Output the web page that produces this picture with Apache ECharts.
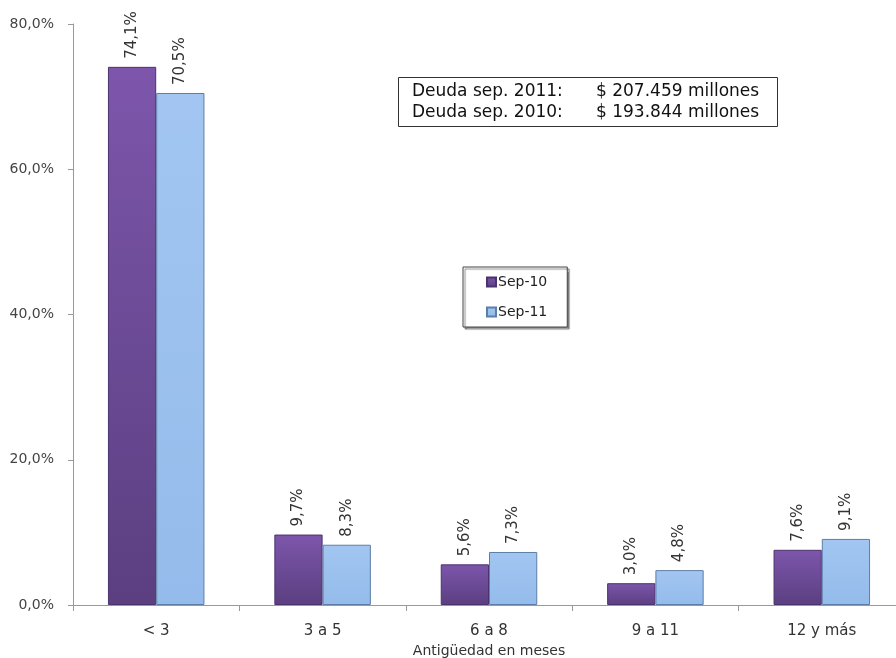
<!DOCTYPE html>
<html>
<head>
<meta charset="utf-8">
<script src="https://cdn.jsdelivr.net/npm/echarts@6/dist/echarts.min.js"></script>
<style>
html,body{margin:0;padding:0;background:#fff;}
#chart{width:896px;height:658px;}
</style>
</head>
<body>
<div id="chart"></div>
<script>
// Antigüedad de la deuda por tramo de meses
const categories = ['< 3', '3 a 5', '6 a 8', '9 a 11', '12 y más'];
const sep10 = [74.1, 9.7, 5.6, 3.0, 7.6];
const sep11 = [70.5, 8.3, 7.3, 4.8, 9.1];
const seriesNames = ['Sep-10', 'Sep-11'];
const yTicks = [0, 20, 40, 60, 80];
const noteLines = [
  ['Deuda sep. 2011:', '$ 207.459 millones'],
  ['Deuda sep. 2010:', '$ 193.844 millones']
];

const FONT = 'DejaVu Sans';
const fmt = v => v.toFixed(1).replace('.', ',') + '%';

const chart = echarts.init(document.getElementById('chart'));

const purple = new echarts.graphic.LinearGradient(0, 0, 0, 1, [
  { offset: 0, color: '#7d56ab' },
  { offset: 1, color: '#5b3f81' }
]);
const blue = new echarts.graphic.LinearGradient(0, 0, 0, 1, [
  { offset: 0, color: '#a2c6f1' },
  { offset: 1, color: '#94bbeb' }
]);

const labelCfg = {
  show: true,
  position: 'top',
  rotate: 90,
  align: 'left',
  verticalAlign: 'middle',
  distance: 8,
  fontFamily: FONT,
  fontSize: 15,
  color: '#333',
  formatter: p => fmt(p.value)
};

chart.setOption({
  animation: false,
  textStyle: { fontFamily: FONT },
  grid: { left: 73, top: 24, width: 832, bottom: 53, containLabel: false, outerBoundsMode: 'none' },
  legend: {
    left: 463, top: 267, orient: 'vertical',
    itemWidth: 9, itemHeight: 9, itemGap: 16,
    icon: 'rect',
    padding: [8, 20, 8, 23],
    textStyle: { fontFamily: FONT, fontSize: 14, color: '#222', padding: [0, 0, 0, -3] },
    borderColor: '#444', borderWidth: 1, backgroundColor: '#fff',
    shadowColor: 'rgba(0,0,0,0.45)', shadowOffsetX: 2, shadowOffsetY: 2, shadowBlur: 1,
    data: seriesNames
  },
  xAxis: {
    type: 'category',
    data: categories,
    name: 'Antigüedad en meses',
    nameLocation: 'middle',
    nameGap: 37,
    nameTextStyle: { fontFamily: FONT, fontSize: 14, color: '#333' },
    axisLine: { lineStyle: { color: '#999' } },
    axisTick: { show: true, alignWithLabel: false, length: 6, lineStyle: { color: '#999' } },
    axisLabel: { fontFamily: FONT, fontSize: 15, color: '#333', margin: 19 }
  },
  yAxis: {
    type: 'value',
    min: yTicks[0], max: yTicks[yTicks.length - 1], interval: 20,
    axisLine: { show: true, lineStyle: { color: '#999' } },
    axisTick: { show: true, length: 5, lineStyle: { color: '#999' } },
    splitLine: { show: false },
    axisLabel: { fontFamily: FONT, fontSize: 14, color: '#444', margin: 19,
      formatter: v => v.toFixed(1).replace('.', ',') + '%' }
  },
  series: [
    {
      name: seriesNames[0], type: 'bar', data: sep10,
      barGap: '0%', barCategoryGap: '42%',
      itemStyle: { color: purple, borderColor: '#4b3370', borderWidth: 1 },
      label: labelCfg
    },
    {
      name: seriesNames[1], type: 'bar', data: sep11,
      itemStyle: { color: blue, borderColor: '#5d7ea6', borderWidth: 1 },
      label: labelCfg
    }
  ],
  graphic: [
    {
      type: 'rect', left: 398, top: 77,
      shape: { width: 379, height: 49 },
      style: { fill: '#fff', stroke: '#333', lineWidth: 1 }
    },
    {
      type: 'text', left: 412, top: 81,
      style: { text: noteLines.map(l => l[0]).join('\n'), font: '17px "DejaVu Sans"', fill: '#111', lineHeight: 21 }
    },
    {
      type: 'text', left: 596, top: 81,
      style: { text: noteLines.map(l => l[1]).join('\n'), font: '17px "DejaVu Sans"', fill: '#111', lineHeight: 21 }
    }
  ]
});
</script>
</body>
</html>
